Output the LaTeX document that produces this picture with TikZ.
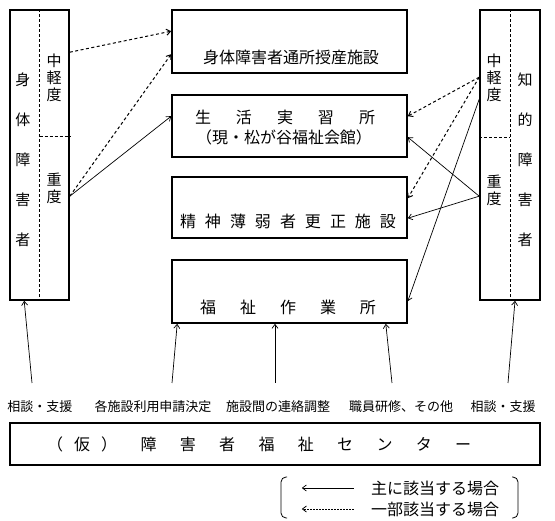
\documentclass[tikz,border=0pt]{standalone}
\usepackage{fontspec}
\setmainfont{Noto Sans CJK JP}
\usetikzlibrary{arrows.meta}

\begin{document}
\begin{tikzpicture}[x=1pt,y=-1pt]
\useasboundingbox (0,0) rectangle (555,521);
\begin{scope}[every node/.style={rectangle,draw,line width=1.6pt,inner sep=0pt}]
    \node[minimum width=59pt,minimum height=290pt] (shintai) at (39.5,155) {};
    \node[minimum width=60pt,minimum height=290pt] (chiteki) at (510,155) {};
    \node[minimum width=235pt,minimum height=63pt] (jusan) at (289.5,41.5) {};
    \node[minimum width=235pt,minimum height=62pt] (seikatsu) at (289.5,126) {};
    \node[minimum width=235pt,minimum height=61pt] (kosei) at (289.5,207.5) {};
    \node[minimum width=235pt,minimum height=63pt] (sagyo) at (289.5,291.5) {};
    \node[minimum width=530pt,minimum height=42pt] (center) at (275,444) {};
\end{scope}
\begin{scope}[every node/.style={inner sep=0pt},
              big_text/.style={font=\fontsize{16}{19}\selectfont},
              side_text/.style={font=\fontsize{15}{40}\selectfont,align=center},
              grade_text/.style={font=\fontsize{15}{17}\selectfont,align=center},
              task_text/.style={font=\fontsize{13}{15}\selectfont}]
    \node[big_text] (jusan_txt) at (291,57) {身体障害者通所授産施設};
    \node[big_text] (seikatsu_txt) at (285,117) {\makebox[180pt][s]{生\hfill 活\hfill 実\hfill 習\hfill 所}};
    \node[big_text] (seikatsu_sub) at (284,137) {（現・松が谷福祉会館）};
    \node[big_text] (kosei_txt) at (288,221) {\makebox[216pt][s]{精\hfill 神\hfill 薄\hfill 弱\hfill 者\hfill 更\hfill 正\hfill 施\hfill 設}};
    \node[big_text] (sagyo_txt) at (288,307) {\makebox[176pt][s]{福\hfill 祉\hfill 作\hfill 業\hfill 所}};
    \node[big_text,anchor=west] (center_txt) at (47,444) {\makebox[424pt][s]{（\hspace{11pt}仮\hspace{11pt}）\hfill 障\hfill 害\hfill 者\hfill 福\hfill 祉\hfill セ\hfill ン\hfill タ\hfill ー}};
    \node[side_text] (shintai_txt) at (23,160) {身\\体\\障\\害\\者};
    \node[side_text] (chiteki_txt) at (525,160) {知\\的\\障\\害\\者};
    \node[grade_text] (l_mild) at (54,78) {中\\軽\\度};
    \node[grade_text] (l_severe) at (54,188) {重\\度};
    \node[grade_text] (r_mild) at (494,78) {中\\軽\\度};
    \node[grade_text] (r_severe) at (494,190) {重\\度};
    \node[task_text] (sodan_l) at (40,407) {相談・支援};
    \node[task_text] (apply) at (153,407) {各施設利用申請決定};
    \node[task_text] (coord) at (278,407) {施設間の連絡調整};
    \node[task_text] (train) at (401,407) {職員研修、その他};
    \node[task_text] (sodan_r) at (503,407) {相談・支援};
    \node[big_text] (legend_main) at (435,488) {主に該当する場合};
    \node[big_text] (legend_part) at (435,509) {一部該当する場合};
\end{scope}
\begin{scope}[div_line/.style={draw=black,line width=0.7pt,dash pattern=on 3pt off 2pt}]
    \path (shintai.north) edge [div_line] (shintai.south);
    \path (chiteki.north) edge [div_line] (chiteki.south);
    \path ([yshift=19pt]shintai.center) edge [div_line] ([yshift=19pt]shintai.east);
    \path ([yshift=18pt]chiteki.west) edge [div_line] ([yshift=18pt]chiteki.center);
\end{scope}
\coordinate (from_l) at (32,383);
\coordinate (from_apply) at (172,383);
\coordinate (from_coord) at (275,383);
\coordinate (from_train) at (392,383);
\coordinate (from_r) at (508,383);
\begin{scope}[>={Straight Barb[length=4pt,width=6pt]},
              solid_edge/.style={draw=black,line width=0.7pt},
              dash_edge/.style={draw=black,line width=1pt,dash pattern=on 3pt off 2.5pt},
              dot_edge/.style={draw=black,line width=0.8pt,dash pattern=on 1.5pt off 1.5pt}]
    \path [->] ([yshift=-43pt]shintai.north east) edge [dash_edge] ([yshift=-22pt]jusan.north west);
    \path [->] ([yshift=-187pt]shintai.north east) edge [dash_edge] ([yshift=-45pt]jusan.north west);
    \path [->] ([yshift=-187pt]shintai.north east) edge [solid_edge] ([yshift=-22pt]seikatsu.north west);
    \path [->] ([yshift=-68pt]chiteki.north west) edge [dash_edge] ([yshift=-22pt]seikatsu.north east);
    \path [->] ([yshift=-68pt]chiteki.north west) edge [dash_edge] ([yshift=-22pt]kosei.north east);
    \path [->] ([yshift=-187pt]chiteki.north west) edge [solid_edge] ([yshift=-43pt]seikatsu.north east);
    \path [->] ([yshift=-187pt]chiteki.north west) edge [solid_edge] ([yshift=-42pt]kosei.north east);
    \path [->] ([yshift=-90pt]chiteki.north west) edge [solid_edge] ([yshift=-42pt]sagyo.north east);
    \path [->] (from_l) edge [solid_edge] ([xshift=15pt]shintai.south west);
    \path [->] (from_apply) edge [solid_edge] ([xshift=6pt]sagyo.south west);
    \path [->] (from_coord) edge [solid_edge] ([xshift=-14.5pt]sagyo.south);
    \path [->] (from_train) edge [solid_edge] ([xshift=-22pt]sagyo.south east);
    \path [->] (from_r) edge [solid_edge] ([xshift=5pt]chiteki.south);
    \path [->] ([xshift=-17pt]legend_main.west) edge [solid_edge] ([xshift=-69pt]legend_main.west);
    \path [->] ([xshift=-17pt]legend_part.west) edge [dot_edge] ([xshift=-69pt]legend_part.west);
\end{scope}
\draw[line width=0.8pt,rounded corners=5pt] (287,477) -- (281,477) -- (281,518) -- (287,518);
\draw[line width=0.8pt,rounded corners=5pt] (512,477) -- (518,477) -- (518,518) -- (512,518);
\end{tikzpicture}
\end{document}
